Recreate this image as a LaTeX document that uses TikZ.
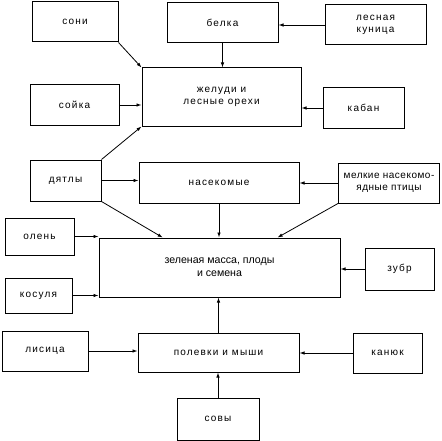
\documentclass[tikz,border=0pt]{standalone}
\usepackage{fontspec}
\setmainfont{Liberation Sans}
\newfontfamily\spacedfont[LetterSpace=12]{Liberation Sans}
\newfontfamily\tightfont[LetterSpace=5]{Liberation Sans}
\usetikzlibrary{calc, arrows.meta}

\tikzset{
  box/.style={draw, line width=1pt, align=center, inner sep=1pt,
    font=\spacedfont\fontsize{10}{12}\selectfont},
  arr/.style={line width=0.8pt, -{Latex[length=5pt, width=3.5pt]}}
}

\begin{document}
\begin{tikzpicture}[x=1pt, y=-1pt]
  \useasboundingbox (0,0) rectangle (441,441);
  % boxes
  \node[box, minimum width=86pt, minimum height=40pt] (soni) at (75,22) {сони};
  \node[box, minimum width=111pt, minimum height=40pt] (belka) at (222.5,23) {белка};
  \node[box, minimum width=101pt, minimum height=40pt] (kunica) at (375.5,25) {лесная\\куница};
  \node[box, minimum width=159pt, minimum height=58pt] (zheludi) at (221.5,97) {желуди и\\лесные орехи};
  \node[box, minimum width=89pt, minimum height=40pt] (soyka) at (74.5,105) {сойка};
  \node[box, minimum width=81pt, minimum height=40pt] (kaban) at (363.5,108) {кабан};
  \node[box, minimum width=71pt, minimum height=41pt] (dyatly) at (65.5,180.5) {дятлы};
  \node[box, minimum width=160pt, minimum height=41pt] (nasek) at (219,182.5) {насекомые};
  \node[box, minimum width=101pt, minimum height=40pt, font=\tightfont\fontsize{10}{12}\selectfont] (melkie) at (389,183) {мелкие насекомо-\\ядные птицы};
  \node[box, minimum width=69pt, minimum height=37pt] (olen) at (39.5,236.5) {олень};
  \node[box, minimum width=241pt, minimum height=59pt, font=\fontsize{10.6}{13}\selectfont] (zelen) at (219.5,267.5) {зеленая масса, плоды\\и семена};
  \node[box, minimum width=69pt, minimum height=42pt] (zubr) at (399.5,269) {зубр};
  \node[box, minimum width=67pt, minimum height=35pt] (kosulya) at (38.5,295.5) {косуля};
  \node[box, minimum width=86pt, minimum height=40pt] (lisica) at (45,351) {лисица};
  \node[box, minimum width=161pt, minimum height=39pt] (polevki) at (218.5,352.5) {полевки и мыши};
  \node[box, minimum width=69pt, minimum height=40pt] (kanyuk) at (387.5,353) {канюк};
  \node[box, minimum width=82pt, minimum height=42pt] (sovy) at (218,419) {совы};
  % connectors
  \draw[arr] (soni.south east) -- (zheludi.north west);
  \draw[arr] (belka.south) -- (belka.south |- zheludi.north);
  \draw[arr] (kunica.west) -- (kunica.west -| belka.east);
  \draw[arr] (soyka.east) -- (soyka.east -| zheludi.west);
  \draw[arr] (kaban.west) -- (kaban.west -| zheludi.east);
  \draw[arr] (dyatly.north east) -- (zheludi.south west);
  \draw[arr] (dyatly.east) -- (dyatly.east -| nasek.west);
  \draw[arr] (melkie.west) -- (melkie.west -| nasek.east);
  \draw[arr] (dyatly.south east) -- ($(zelen.north west)!0.265!(zelen.north east)$);
  \draw[arr] (nasek.south) -- (nasek.south |- zelen.north);
  \draw[arr] (melkie.south west) -- ($(zelen.north west)!0.74!(zelen.north east)$);
  \draw[arr] (olen.east) -- (olen.east -| zelen.west);
  \draw[arr] (kosulya.east) -- (kosulya.east -| zelen.west);
  \draw[arr] (zubr.west) -- (zubr.west -| zelen.east);
  \draw[arr] (polevki.north) -- (polevki.north |- zelen.south);
  \draw[arr] (lisica.east) -- (lisica.east -| polevki.west);
  \draw[arr] (kanyuk.west) -- (kanyuk.west -| polevki.east);
  \draw[arr] (sovy.north) -- (sovy.north |- polevki.south);
\end{tikzpicture}
\end{document}
